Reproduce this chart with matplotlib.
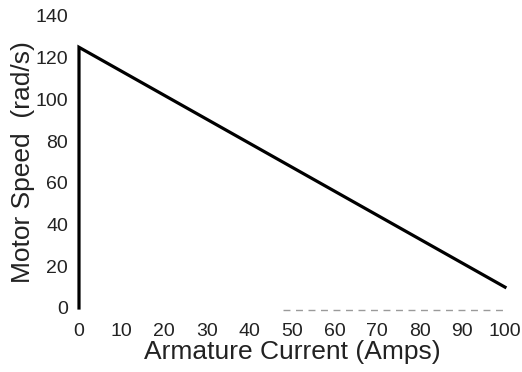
import matplotlib
matplotlib.use('Agg')
import matplotlib.pyplot as plt

plt.rcParams['font.family'] = ['Liberation Sans', 'DejaVu Sans']

# speed-current characteristic (vertical rise at zero current, then linear droop)
current = [0, 0, 100]
speed = [0, 125, 10]

# faint dashed reference near zero speed
ref_current = [48, 100]
ref_speed = [-0.8, -0.8]

x_ticks = list(range(0, 101, 10))
y_ticks = list(range(0, 141, 20))

W, H = 522, 372
fig = plt.figure(figsize=(W / 100, H / 100), dpi=100)
ax = fig.add_axes([79 / W, 1 - 308 / H, (505 - 79) / W, (308 - 16) / H])

ax.plot(current, speed, color='black', linewidth=2.3, clip_on=False,
        solid_joinstyle='miter')
ax.plot(ref_current, ref_speed, color='#9a9a9a', linewidth=1.0,
        linestyle=(0, (5, 4)), clip_on=False)

ax.set_xlim(0, 100)
ax.set_ylim(0, 140)
ax.set_xticks(x_ticks)
ax.set_yticks(y_ticks)
ax.tick_params(length=0, labelsize=14, colors='#222222', pad=8)
ax.tick_params(axis='x', pad=11)
for s in ax.spines.values():
    s.set_visible(False)

ax.set_xlabel('Armature Current (Amps)', fontsize=19, color='#222222', labelpad=0)
ax.set_ylabel('Motor Speed  (rad/s)', fontsize=19, color='#222222', labelpad=0)

fig.savefig('out.png', dpi=100)
plt.close(fig)
